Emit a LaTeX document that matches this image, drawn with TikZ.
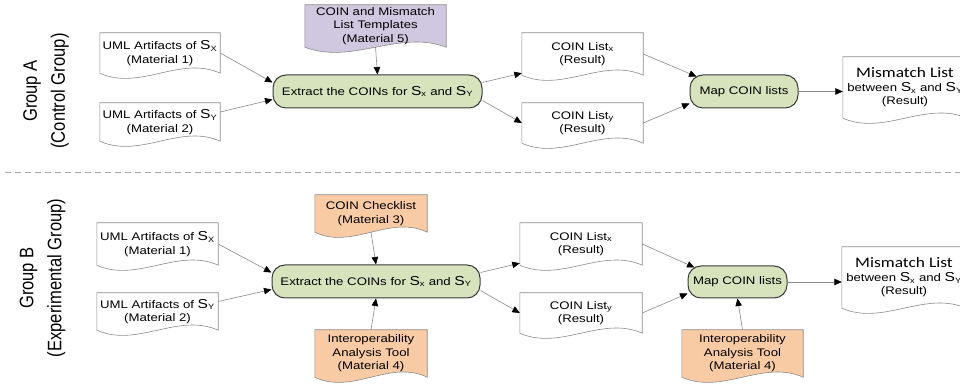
\documentclass[tikz,border=0pt]{standalone}
\usepackage{fontspec}
\setmainfont{Liberation Sans}[FakeStretch=1.2]
\newfontfamily\mmfont{Carlito}[FakeStretch=1.2]
\newfontfamily\grpfont{Liberation Sans}[FakeStretch=0.85]
\usetikzlibrary{arrows.meta,calc,backgrounds}

\definecolor{procfill}{HTML}{D6E3BC}
\definecolor{procline}{HTML}{3A3A3A}
\definecolor{tplfill}{HTML}{D0C8E0}
\definecolor{matfill}{HTML}{F9CBA5}
\definecolor{docline}{HTML}{8C8C8C}
\definecolor{connline}{HTML}{8A8A8A}
\definecolor{sepline}{HTML}{A8A8A8}

% S with a subscript, the S set a little larger than the text
\newcommand\Ssub[1]{{\fontsize{13pt}{13pt}\selectfont S}\textsubscript{#1}}

% document outline: rectangle with a wavy lower edge around a named node
\newcommand\wavek{18}
\newcommand\docshape[2]{%
  \draw[docline, line width=0.6pt, fill=#2]
    let \p1=(#1.south west), \p2=(#1.north east), \n1={\x2-\x1} in
    (\x1,\y2) -- (\x2,\y2) -- (\x2,\y1)
    .. controls (\x2-\n1/3,\y1+\wavek) and (\x1+\n1/3,\y1-\wavek) .. (\x1,\y1) -- cycle;}

\tikzset{
  doc/.style={rectangle, inner sep=0pt, align=center,
    font=\fontsize{11pt}{13.5pt}\selectfont},
  proc/.style={rectangle, rounded corners=13pt, draw=procline, line width=1pt,
    fill=procfill, inner sep=0pt, align=center,
    font=\fontsize{11pt}{13.5pt}\selectfont},
  grp/.style={rotate=90, align=center, inner sep=0pt,
    font=\grpfont\fontsize{19.5pt}{28pt}\selectfont},
  conn/.style={draw=connline, line width=0.6pt,
    -{Triangle[length=7.5pt,width=6.5pt,color=black]}},
}

\begin{document}
\begin{tikzpicture}[x=1pt,y=1pt]
\useasboundingbox (0,0) rectangle (960,385);

% group labels
\node[grp] (gA) at (46,294) {Group A\\(Control Group)};
\node[grp] (gB) at (42.5,107) {Group B\\(Experimental Group)};

% separator between the two groups
\draw[sepline, line width=0.8pt, dash pattern=on 6pt off 4pt] (5,213) -- (960,213);

% ---------------- Group A ----------------
\node[doc, minimum width=120, minimum height=40] (u1A) at (160,332)
  {UML Artifacts of \Ssub{X}\\(Material 1)};
\node[doc, minimum width=120, minimum height=38] (u2A) at (160,263)
  {UML Artifacts of \Ssub{Y}\\(Material 2)};
\node[proc, minimum width=209, minimum height=33] (exA) at (377.5,293.5)
  {Extract the COINs for \Ssub{x} and \Ssub{Y}};
\node[doc, minimum width=141, minimum height=42] (tplA) at (375.5,359)
  {COIN and Mismatch\\List Templates\\(Material 5)};
\node[doc, minimum width=121, minimum height=42] (lxA) at (582.5,331)
  {COIN List\textsubscript{x}\\(Result)};
\node[doc, minimum width=121, minimum height=40] (lyA) at (582.5,262)
  {COIN List\textsubscript{y}\\(Result)};
\node[proc, minimum width=108, minimum height=33] (mapA) at (744,293.5)
  {Map COIN lists};
\node[doc, minimum width=124, minimum height=61] (mmA) at (905,297.5)
  {{\mmfont\fontsize{14.5pt}{16pt}\selectfont Mismatch List}\\between \Ssub{x} and \Ssub{Y}\\(Result)};

\draw[conn] (u1A.east) -- ([yshift=9]exA.west);
\draw[conn] ([yshift=10]u2A.east) -- ([yshift=-8]exA.west);
\draw[conn] (tplA.south) -- (exA.north);
\draw[conn] ([yshift=9]exA.east) -- ([yshift=2]lxA.south west);
\draw[conn] ([yshift=-9]exA.east) -- (lyA.west);
\draw[conn] (lxA.east) -- ([shift={(7,-2)}]mapA.north west);
\draw[conn] (lyA.east) -- ([yshift=5]mapA.south west);
\draw[conn] (mapA.east) -- (mapA.east -| mmA.west);

% ---------------- Group B ----------------
\node[doc, minimum width=121, minimum height=42] (u1B) at (157.5,141)
  {UML Artifacts of \Ssub{X}\\(Material 1)};
\node[doc, minimum width=121, minimum height=37] (u2B) at (157.5,73.5)
  {UML Artifacts of \Ssub{Y}\\(Material 2)};
\node[proc, minimum width=208, minimum height=33] (exB) at (376,103.5)
  {Extract the COINs for \Ssub{x} and \Ssub{Y}};
\node[doc, minimum width=112, minimum height=37] (chkB) at (371,171.5)
  {COIN Checklist\\(Material 3)};
\node[doc, minimum width=112, minimum height=47] (toolB) at (371,31.5)
  {Interoperability\\Analysis Tool\\(Material 4)};
\node[doc, minimum width=122, minimum height=42] (lxB) at (581,141)
  {COIN List\textsubscript{x}\\(Result)};
\node[doc, minimum width=122, minimum height=40] (lyB) at (581,72)
  {COIN List\textsubscript{y}\\(Result)};
\node[proc, minimum width=99, minimum height=32] (mapB) at (737.5,103)
  {Map COIN lists};
\node[doc, minimum width=124, minimum height=61] (mmB) at (904,107.5)
  {{\mmfont\fontsize{14.5pt}{16pt}\selectfont Mismatch List}\\between \Ssub{x} and \Ssub{Y}\\(Result)};
\node[doc, minimum width=121, minimum height=47] (toolC) at (742.5,31.5)
  {Interoperability\\Analysis Tool\\(Material 4)};

\draw[conn] (u1B.east) -- ([yshift=9]exB.west);
\draw[conn] ([yshift=10]u2B.east) -- ([yshift=-8]exB.west);
\draw[conn] (chkB.south) -- (exB.north);
\draw[conn] (toolB.north) -- (exB.south);
\draw[conn] ([yshift=9]exB.east) -- ([yshift=2]lxB.south west);
\draw[conn] ([yshift=-9]exB.east) -- (lyB.west);
\draw[conn] (lxB.east) -- ([shift={(7,-2)}]mapB.north west);
\draw[conn] (lyB.east) -- ([yshift=5]mapB.south west);
\draw[conn] (toolC.north) -- (mapB.south);
\draw[conn] (mapB.east) -- (mapB.east -| mmB.west);

% document outlines behind the texts
\begin{pgfonlayer}{background}
  \clip (0,0) rectangle (960,385);
  \docshape{u1A}{white}
  \docshape{u2A}{white}
  \docshape{tplA}{tplfill}
  \docshape{lxA}{white}
  \docshape{lyA}{white}
  \docshape{mmA}{white}
  \docshape{u1B}{white}
  \docshape{u2B}{white}
  \docshape{chkB}{matfill}
  \docshape{toolB}{matfill}
  \docshape{lxB}{white}
  \docshape{lyB}{white}
  \docshape{mmB}{white}
  \docshape{toolC}{matfill}
\end{pgfonlayer}
\end{tikzpicture}
\end{document}
